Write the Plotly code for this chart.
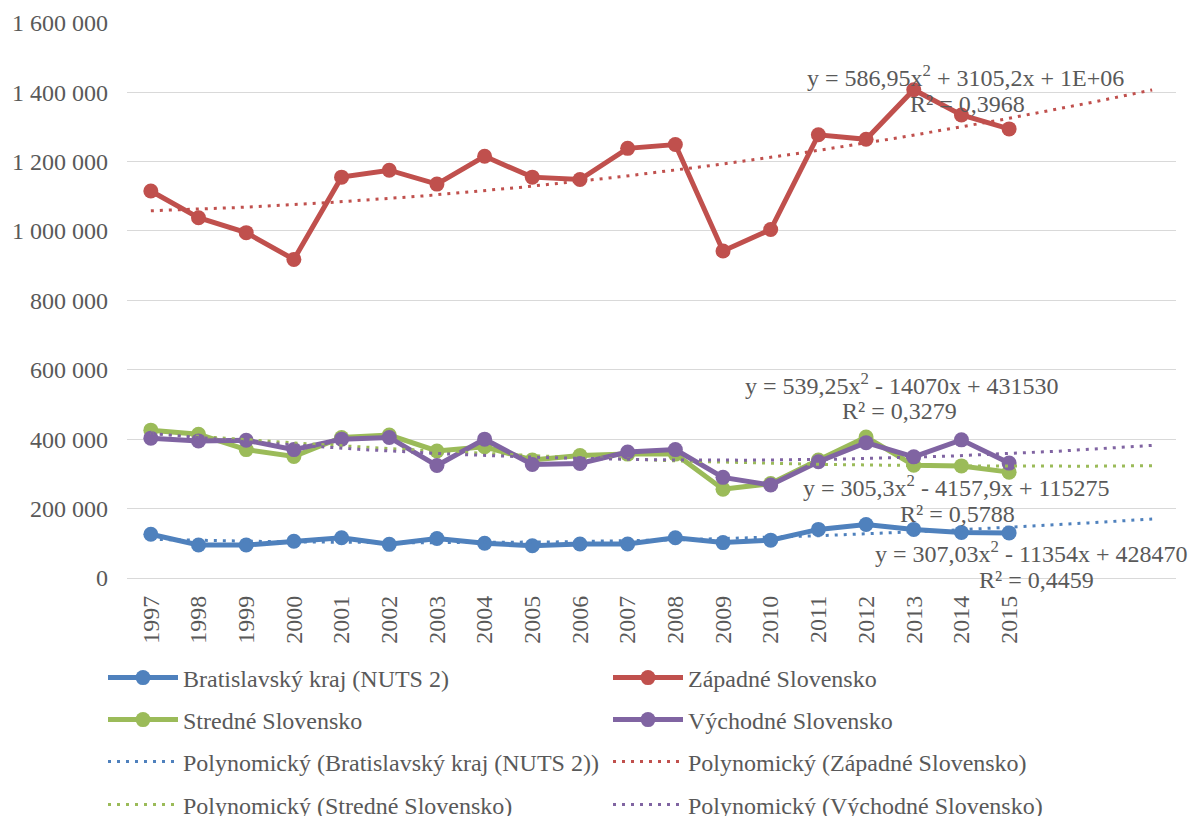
import numpy as np
import plotly.graph_objects as go

# ---- data ----
years = ["1997", "1998", "1999", "2000", "2001", "2002", "2003", "2004", "2005", "2006",
         "2007", "2008", "2009", "2010", "2011", "2012", "2013", "2014", "2015"]
bratislavsky = [126000, 95000, 95000, 106000, 116000, 97000, 114000, 100000, 93000, 98000,
                98000, 116000, 102000, 109000, 140000, 154000, 140000, 131000, 130000]
zapadne = [1115000, 1038000, 995000, 918000, 1155000, 1175000, 1135000, 1215000, 1155000, 1148000,
           1238000, 1249000, 942000, 1004000, 1277000, 1264000, 1407000, 1334000, 1294000]
stredne = [426000, 414000, 370000, 350000, 405000, 412000, 366000, 378000, 340000, 353000,
           357000, 357000, 256000, 272000, 340000, 406000, 325000, 323000, 305000]
vychodne = [403000, 395000, 397000, 370000, 400000, 405000, 324000, 400000, 327000, 330000,
            363000, 370000, 290000, 268000, 335000, 390000, 349000, 398000, 331000]
series_names = ["Bratislavský kraj (NUTS 2)", "Západné Slovensko", "Stredné Slovensko", "Východné Slovensko"]
forecast_periods = 3
y_tick_values = [0, 200000, 400000, 600000, 800000, 1000000, 1200000, 1400000, 1600000]
y_tick_labels = ["0", "200 000", "400 000", "600 000", "800 000", "1 000 000", "1 200 000", "1 400 000", "1 600 000"]
equations = [
    "y = 586,95x<sup>2</sup> + 3105,2x + 1E+06", "R² = 0,3968",
    "y = 539,25x<sup>2</sup> - 14070x + 431530", "R² = 0,3279",
    "y = 305,3x<sup>2</sup> - 4157,9x + 115275", "R² = 0,5788",
    "y = 307,03x<sup>2</sup> - 11354x + 428470", "R² = 0,4459",
]

# ---- styling ----
FONT = "Liberation Serif"
TXT = "#595959"
colors = ["#4F81BD", "#C0504D", "#9BBB59", "#8064A2"]
values = [bratislavsky, zapadne, stredne, vychodne]
data_legends = ["legend", "legend", "legend2", "legend2"]
trend_legends = ["legend3", "legend3", "legend4", "legend4"]

# the page body has an 8px margin; work in window pixels and shift
OFF = 8
WIN_W, WIN_H = 1196, 816
W, H = WIN_W - OFF, WIN_H - OFF
PLOT_L, PLOT_R, PLOT_T, PLOT_B = 127, 1176, 22, 578   # window pixels
ML, MT = PLOT_L - OFF, PLOT_T - OFF
MR, MB = W - (PLOT_R - OFF), H - (PLOT_B - OFF)
PW, PH = PLOT_R - PLOT_L, PLOT_B - PLOT_T

x_idx = np.arange(len(years))
fig = go.Figure()

for name, vals, color, lg in zip(series_names, values, colors, data_legends):
    fig.add_trace(go.Scatter(
        x=x_idx, y=vals, mode="lines+markers", name=name, legend=lg,
        line=dict(color=color, width=5), marker=dict(size=15, color=color),
    ))

for name, vals, color, lg in zip(series_names, values, colors, trend_legends):
    xs = x_idx + 1
    coeffs = np.polyfit(xs, vals, 2)
    xt = np.linspace(1, len(years) + forecast_periods, 300)
    yt = np.polyval(coeffs, xt)
    fig.add_trace(go.Scatter(
        x=xt - 1, y=yt, mode="lines", name=f"Polynomický ({name})", legend=lg,
        line=dict(color=color, width=3, dash="3px,6px"),
    ))

def px2paper(px, py):
    return (px - PLOT_L) / PW, (PLOT_B - py) / PH

ann_pos = [(965, 76), (967, 104), (901, 384), (899, 411),
           (956, 486), (957, 514), (1031, 552), (1036, 580)]
annotations = []
for text, (px, py) in zip(equations, ann_pos):
    xp, yp = px2paper(px, py)
    annotations.append(dict(
        text=text, x=xp, y=yp, xref="paper", yref="paper", showarrow=False,
        xanchor="center", yanchor="middle", font=dict(family=FONT, size=24, color=TXT),
    ))

legend_common = dict(
    orientation="h", font=dict(family=FONT, size=24, color=TXT), bgcolor="rgba(0,0,0,0)",
    xanchor="left", yanchor="middle", entrywidth=420, itemwidth=70, borderwidth=0,
)
leg_x = (103 - PLOT_L) / PW
legend_rows = [678, 720, 762, 805]

fig.update_layout(
    width=W, height=H,
    margin=dict(l=ML, r=MR, t=MT, b=MB, autoexpand=False),
    paper_bgcolor="white", plot_bgcolor="white",
    font=dict(family=FONT, size=24, color=TXT),
    showlegend=True,
    annotations=annotations,
    legend=dict(legend_common, x=leg_x, y=px2paper(0, legend_rows[0])[1]),
    legend2=dict(legend_common, x=leg_x, y=px2paper(0, legend_rows[1])[1]),
    legend3=dict(legend_common, x=leg_x, y=px2paper(0, legend_rows[2])[1]),
    legend4=dict(legend_common, x=leg_x, y=px2paper(0, legend_rows[3])[1]),
    xaxis=dict(
        range=[-0.5, len(years) + forecast_periods - 0.5],
        tickmode="array", tickvals=list(x_idx), ticktext=years, tickangle=-90,
        showgrid=False, zeroline=False, showline=False, ticks="",
        tickfont=dict(family=FONT, size=24, color=TXT), ticklabelstandoff=12,
    ),
    yaxis=dict(
        range=[0, 1602000], tickmode="array", tickvals=y_tick_values, ticktext=y_tick_labels,
        showgrid=True, gridcolor="#D9D9D9", gridwidth=1.3,
        zeroline=True, zerolinecolor="#D9D9D9", zerolinewidth=1.3,
        showline=False, ticks="", tickfont=dict(family=FONT, size=24, color=TXT),
        ticklabelstandoff=18,
    ),
)

fig.write_html("out.html")
